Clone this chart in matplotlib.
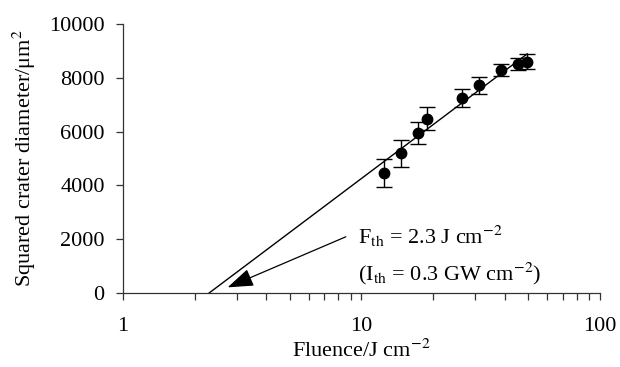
import numpy as np
import matplotlib
matplotlib.use("Agg")
import matplotlib.pyplot as plt
from matplotlib.ticker import LogLocator, NullFormatter, FixedLocator

# dane
fluence = [12.4, 14.7, 17.2, 18.9, 26.5, 31.2, 38.4, 45.2, 49.6]
d2 = [4450, 5190, 5960, 6480, 7240, 7720, 8290, 8510, 8590]
d2_err = [520, 510, 410, 430, 330, 320, 240, 220, 280]

# dopasowanie D^2 = a*log10(F/Fth)
F_th = 2.3
slope = 6670
fit_range = [F_th, 49.5]

plt.rcParams["font.family"] = ["Liberation Serif", "DejaVu Serif"]
plt.rcParams["mathtext.fontset"] = "stix"
plt.rcParams["font.size"] = 16

fig = plt.figure(figsize=(6.2, 3.67), dpi=100)
ax = fig.add_axes([0.198, 0.2016, 0.77, 0.733])

fx = np.array(fit_range)
ax.plot(fx, slope * np.log10(fx / F_th), color="black", lw=1.0)
ax.errorbar(fluence, d2, yerr=d2_err, fmt="o", color="black", ms=7.5,
            elinewidth=1.0, capsize=6, capthick=1.0)

ax.set_xscale("log")
ax.set_xlim(1, 100)
ax.set_ylim(0, 10000)
ax.set_yticks([0, 2000, 4000, 6000, 8000, 10000])
ax.xaxis.set_major_locator(FixedLocator([1, 10, 100]))
ax.set_xticklabels(["1", "10", "100"])
ax.xaxis.set_minor_locator(LogLocator(base=10, subs=np.arange(2, 10)))
ax.xaxis.set_minor_formatter(NullFormatter())

for s in ["top", "right"]:
    ax.spines[s].set_visible(False)
for s in ["left", "bottom"]:
    ax.spines[s].set_linewidth(0.9)
    ax.spines[s].set_color("#333333")
ax.tick_params(axis="x", which="both", direction="out", length=5, width=0.9,
               color="#333333", pad=12)
ax.tick_params(axis="y", direction="out", length=5, width=0.9,
               color="#333333", pad=8)

ax.set_xlabel(r"Fluence/J cm$^{-2}$", labelpad=3)
ax.set_ylabel("Squared crater diameter/\u03bcm$^{2}$", labelpad=8)

ax.annotate("", xy=(2.75, 210), xytext=(8.6, 2090),
            arrowprops=dict(arrowstyle="-|>,head_length=1.0,head_width=0.35",
                            color="black", lw=0.9, shrinkA=0, shrinkB=0))
ax.text(9.7, 2100, r"F$_{\rm th}$ = 2.3 J cm$^{-2}$", ha="left", va="center")
ax.text(9.7, 720, r"(I$_{\rm th}$ = 0.3 GW cm$^{-2}$)", ha="left", va="center")

fig.savefig("out.png", dpi=100)
